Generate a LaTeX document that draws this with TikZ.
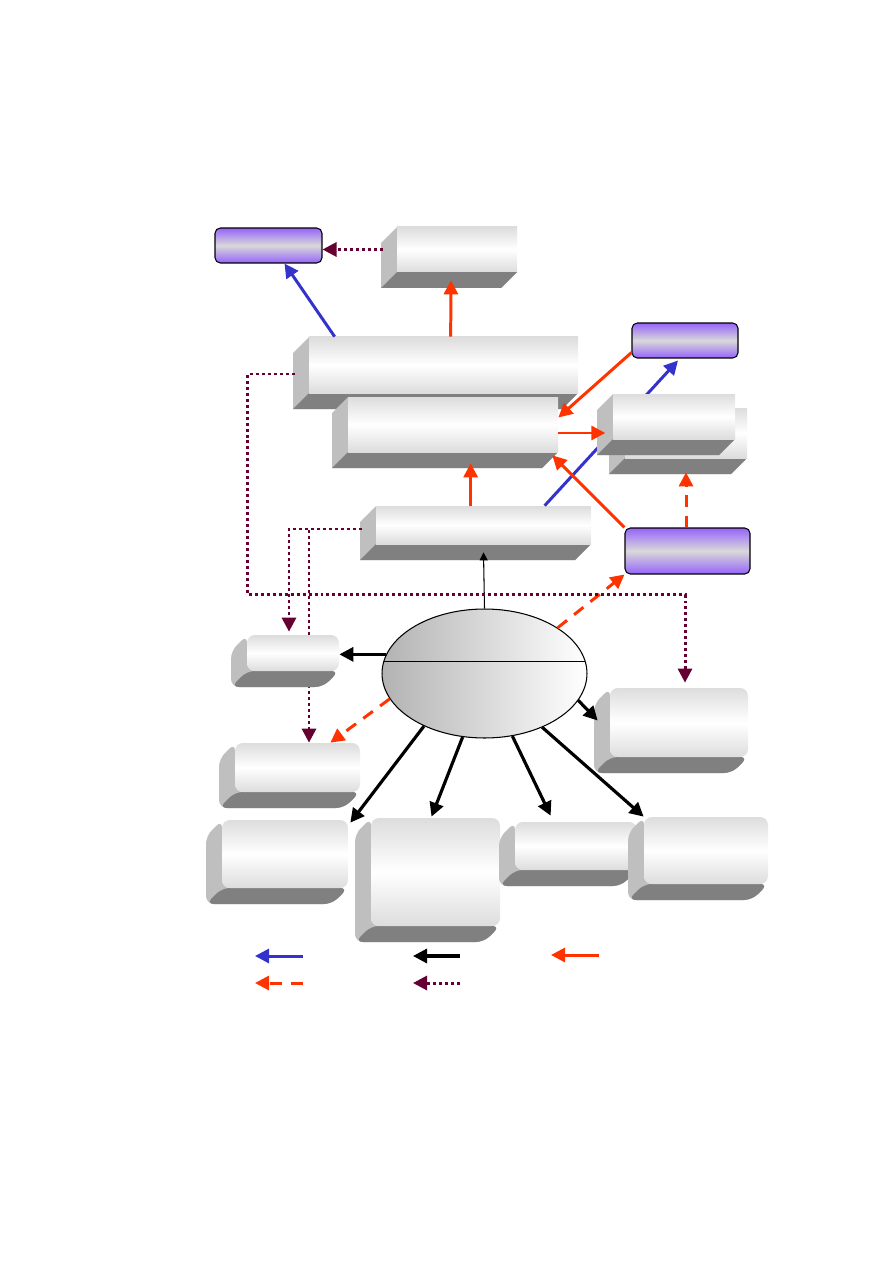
\documentclass[tikz,border=0pt]{standalone}
\usepackage{tikz}
\usetikzlibrary{arrows.meta,calc,fit,shapes.geometric}

\definecolor{linkblue}{RGB}{51,51,204}
\definecolor{linkred}{RGB}{255,51,0}
\definecolor{linkwine}{RGB}{102,0,51}
\definecolor{tagviolet}{RGB}{150,100,250}

\tikzset{
    slab/.style={inner sep=0pt, top color=gray!27, bottom color=gray!27, middle color=white},
    sideface/.style={fill=gray!50},
    baseface/.style={fill=gray},
    tag/.style={draw, line width=0.6pt, rounded corners=3pt, inner sep=0pt, top color=tagviolet, bottom color=tagviolet, middle color=gray!30},
    hubstyle/.style={ellipse, draw, line width=0.6pt, inner sep=0pt, left color=gray!60, right color=white},
    blueedge/.style={draw=linkblue, line width=1.7pt, -{Triangle[length=2.8mm,width=2.8mm]}},
    rededge/.style={draw=linkred, line width=1.7pt, -{Triangle[length=2.8mm,width=2.8mm]}},
    blackedge/.style={draw=black, line width=1.8pt, -{Triangle[length=2.8mm,width=2.8mm]}},
    thinedge/.style={draw=black, line width=0.6pt, -{Triangle[length=1.6mm,width=1.6mm]}},
    dashedge/.style={draw=linkred, line width=1.7pt, dash pattern=on 6.8pt off 5.1pt, -{Triangle[length=2.8mm,width=2.8mm]}},
    dotedge/.style={draw=linkwine, line width=1.7pt, dash pattern=on 1.7pt off 1.7pt, -{Triangle[length=2.8mm,width=2.8mm]}}
}

% depth of the bevel, in px
\newcommand{\dep}{16}
% \slab[style]{name}{left}{top}{right}{bottom} -- front face corners
\newcommand{\slab}[6][]{%
  \fill[sideface,#1] (#3,#4) -- (#3-\dep,#4+\dep) -- (#3-\dep,#6+\dep) -- (#5-\dep,#6+\dep) -- (#5,#6) -- (#3,#6) -- cycle;
  \fill[baseface,#1] (#3,#6) -- (#3-\dep,#6+\dep) -- (#5-\dep,#6+\dep) -- (#5,#6) -- cycle;
  \coordinate (#2-nw) at (#3,#4);
  \coordinate (#2-se) at (#5,#6);
  \node[slab,fit=(#2-nw)(#2-se),#1] (#2) {};
}

\begin{document}
\begin{tikzpicture}[x=0.02cm, y=-0.02cm]
    \useasboundingbox (0,0) rectangle (893,1263);

    % upper part
    \node[tag, minimum width=2.14cm, minimum height=0.70cm] (tagA) at (268.5,245.5) {};
    \slab{slabTop}{397}{227}{517}{272}
    \slab{slabWide}{309}{337}{578}{393}
    \slab{slabMid}{348}{397}{558}{452}
    \node[tag, minimum width=2.12cm, minimum height=0.70cm] (tagB) at (685,340.5) {};
    \node[tag, minimum width=2.50cm, minimum height=0.92cm] (tagC) at (687.5,551) {};
    \slab{slabBase}{376}{506}{591}{544}

    % this one runs behind the pair
    \draw[blueedge] ($(slabBase.north west)+(169,0)$) -- ($(tagB.south)+(-7,2)$);
    \slab{slabPairBack}{625}{408}{747}{458}
    \slab{slabPair}{613}{394}{735}{439}

    % centre
    \node[hubstyle, minimum width=4.1cm, minimum height=2.58cm] (hub) at (484.5,673.5) {};
    \draw[line width=0.6pt] ($(hub.center)+(-100.2,-12)$) -- ($(hub.center)+(100.2,-12)$);

    % lower part
    \slab[rounded corners=4.5pt]{slabRight}{610}{688}{748}{757}
    \slab[rounded corners=4.5pt]{slabLow}{235}{743}{360}{792}
    \slab[rounded corners=4.5pt]{footA}{222}{820}{348}{888}
    \slab[rounded corners=4.5pt]{footB}{371}{818}{500}{926}
    \slab[rounded corners=4.5pt]{footC}{515}{822}{637}{870}
    \slab[rounded corners=4.5pt]{footD}{644}{817}{768}{884}

    % hidden behind the small box
    \draw[dotedge] ($(slabBase.west)+(-14,4)$) -| ($(slabLow.north)+(11.5,0)$);
    \slab[rounded corners=4.5pt]{slabSmall}{247}{635}{339}{671}

    % edges
    \draw[blueedge] ($(slabWide.north west)+(26,0)$) -- ($(tagA.south)+(16,0)$);
    \draw[rededge] ($(slabWide.north west)+(142,0)$) -- ($(slabTop.south)+(-6,8)$);
    \draw[dotedge] ($(slabTop.west)+(-14,0)$) -- (tagA.east |- slabTop.west);
    \draw[rededge] ($(tagB.south west)+(0,-6)$) -- ($(slabMid.east)+(0,-7)$);
    \draw[rededge] ($(slabMid.east)+(0,8.5)$) -- ++(47,0);
    \draw[rededge] (tagC.north west) -- ($(slabMid.south east)+(-6,3)$);
    \draw[dashedge] (tagC.north -| slabPairBack.south) -- ($(slabPairBack.south)+(0,14)$);
    \draw[rededge] ($(slabBase.north west)+(95,0)$) -- ($(slabMid.south west)+(123,11)$);
    \draw[thinedge] (hub.north) -- ($(slabBase.south)+(0,8)$);
    \draw[dashedge] (hub.32) -- (tagC.south west);
    \draw[dashedge] (hub.195) -- ($(slabLow.north east)+(-30,0)$);
    \draw[dotedge] ($(slabWide.west)+(-14,9)$) -- ++(-47,0) |- ($(slabRight.north)+(6,-93)$) -- ($(slabRight.north)+(6,-5)$);
    \draw[dotedge] ($(slabBase.west)+(-14,4)$) -| ($(slabSmall.north)+(-4,-3)$);
    \draw[blackedge] (hub.169) -- (slabSmall.east |- hub.169);
    \draw[blackedge] (hub.-16) -- ($(slabRight.west)+(-12,-2)$);
    \draw[blackedge] (hub.221) -- ($(footA.north east)+(2,3)$);
    \draw[blackedge] (hub.251) -- ($(footB.north)+(-4,-1)$);
    \draw[blackedge] (hub.-66) -- ($(footC.north west)+(36,-6)$);
    \draw[blackedge] (hub.-43) -- (footD.north west);

    % key
    \coordinate (keyBlue) at (303,956);
    \coordinate (keyBlack) at (460,956);
    \coordinate (keyRed) at (599,955);
    \coordinate (keyDash) at (303,983);
    \coordinate (keyDot) at (460,983);
    \draw[blueedge] (keyBlue) -- ++(-48,0);
    \draw[blackedge] (keyBlack) -- ++(-47,0);
    \draw[rededge] (keyRed) -- ++(-48,0);
    \draw[dashedge] (keyDash) -- ++(-48,0);
    \draw[dotedge] (keyDot) -- ++(-47,0);
\end{tikzpicture}
\end{document}
